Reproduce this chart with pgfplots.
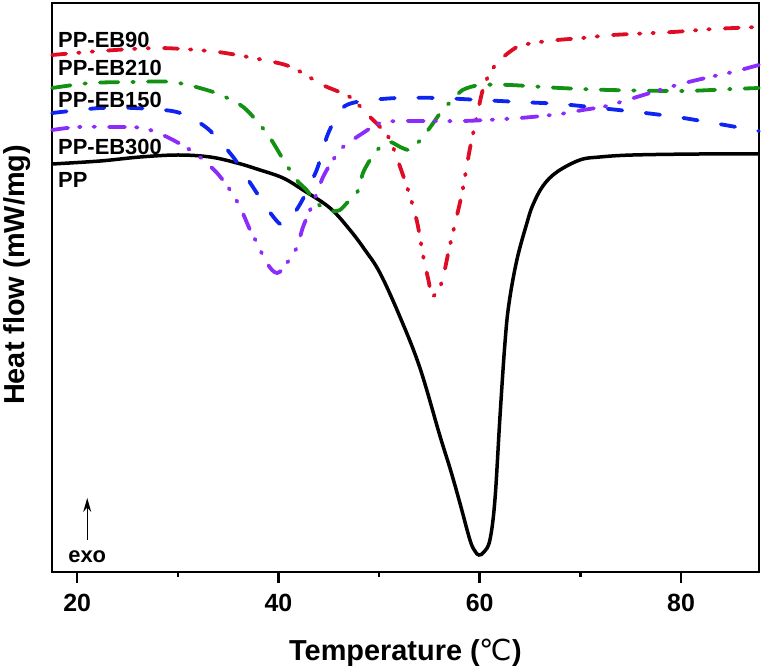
\documentclass[border=0pt]{standalone}
\usepackage{pgfplots}
\pgfplotsset{compat=1.18}
\usepackage{fontspec}
\setmainfont{Liberation Sans}
\newfontfamily\djv{DejaVu Sans}
\usetikzlibrary{arrows.meta}
\definecolor{cred}{RGB}{222,12,36}
\definecolor{cgreen}{RGB}{18,145,18}
\definecolor{cblue}{RGB}{14,36,240}
\definecolor{cpurple}{RGB}{140,44,250}
\newcommand\lblfont{\bfseries\fontsize{22}{26}\selectfont}
\begin{document}
\begin{tikzpicture}
\begin{axis}[
  scale only axis, width=707bp, height=569bp,
  xmin=17.5, xmax=87.75, ymin=0, ymax=569,
  axis line style={line width=2.5bp},
  xtick={20,40,60,80}, minor xtick={30,50,70},
  ytick=\empty, xtick pos=left, tick align=outside,
  major tick length=11bp, minor tick length=5bp,
  every tick/.style={black, line width=2.5bp},
  tick label style={font=\bfseries\fontsize{25}{30}\selectfont},
  xticklabel style={yshift=-8bp},
  /pgf/number format/assume math mode=true,
  xlabel={Temperature ({\djv\mdseries ℃})},
  ylabel={Heat flow (mW/mg)},
  xlabel style={font=\bfseries\fontsize{29}{34}\selectfont, at={(axis description cs:0.5,-0.1547)}, anchor=base},
  ylabel style={font=\bfseries\fontsize{29}{34}\selectfont, at={(axis description cs:-0.0382,0.522)}, anchor=base},
  clip=false,
]
% PP (black)
\addplot[black, line width=3.5bp, smooth, tension=0.6] coordinates {
(17.52,408) (22.28,411) (26.26,415) (30.03,417) (33.21,415) (35.89,409) (38.17,402)
(40.46,394) (42.44,382) (45.12,364) (47.11,342) (48.6,322) (50.09,299) (52.08,255) (54.06,204)
(56.05,136) (57.1,102) (58.03,69) (59.03,32) (59.52,21) (59.92,17) (60.42,20) (61.01,32)
(61.51,72) (62.01,155) (62.50,228) (62.90,268) (63.69,312) (64.69,349) (65.28,367)
(66.28,386) (67.67,400) (69.95,412) (71.94,415) (75.21,417) (81.87,418) (87.73,418)};
% PP-EB90 (red)
\addplot[cred, line width=3.8bp, line cap=round, smooth, tension=0.45,
  dash pattern=on 14bp off 12bp on 1.5bp off 12bp on 1.5bp off 15bp] coordinates {
(17.52,517) (22.3,521) (28.2,524) (34.0,520) (39.5,510) (41.5,504) (44.4,487) (47.1,475)
(49.1,455) (50.1,445) (51.1,432) (52.3,399) (53.1,375) (53.8,349) (54.4,315) (54.9,292)
(55.25,276) (55.75,280) (56.3,292) (57.0,325) (57.8,359) (58.3,382) (59.0,422) (59.7,455)
(60.3,482) (61.0,499) (62.0,512) (63.7,525) (65.3,529) (67.7,532) (70.2,534) (73.2,537)
(79.2,540) (83.2,543) (87.73,545)};
% PP-EB210 (green)
\addplot[cgreen, line width=3.8bp, line cap=round, smooth, tension=0.45,
  dash pattern=on 18.5bp off 14bp on 1.5bp off 14bp] coordinates {
(17.52,484) (21.3,489) (25.6,490) (29.5,490) (33.5,480) (36.5,465) (38.9,438) (40.5,412)
(41.8,392) (42.8,382) (43.8,369) (45.1,361) (46.1,362) (46.8,369) (47.8,379) (48.4,399)
(49.1,412) (50.1,425) (51.1,430) (52.1,425) (53.1,422) (54.1,432) (55.1,445) (56.3,462)
(57.3,472) (58.3,482) (60.0,487) (63.0,487) (68.0,484) (72.9,482) (80.2,481) (85.1,483)
(87.73,484)};
% PP-EB150 (blue)
\addplot[cblue, line width=3.8bp, line cap=round, smooth, tension=0.45,
  dash pattern=on 14.5bp off 23.5bp] coordinates {
(17.52,459) (19.3,461) (22.3,464) (25.6,464) (29.9,460) (32.9,444) (35.5,415) (37.2,389)
(39.2,359) (40.5,347) (42.1,367) (43.8,402) (44.8,435) (45.6,452) (46.6,466) (48.3,471)
(51.8,474) (56.0,474) (60.0,472) (64.0,470) (68.0,468) (71.9,464) (75.6,460) (79.6,455)
(83.2,449) (87.73,441)};
% PP-EB300 (purple)
\addplot[cpurple, line width=3.8bp, line cap=round, smooth, tension=0.45,
  dash pattern=on 16bp off 11bp on 1.5bp off 13bp on 1.5bp off 14bp] coordinates {
(17.52,442) (20.0,445) (23.28,445) (26.55,444) (28.94,435) (30.92,424) (32.21,415)
(33.90,399) (35.19,382) (36.19,365) (37.18,342) (37.87,329) (38.67,312) (39.36,302)
(39.86,299) (40.36,302) (40.85,309) (41.85,325) (42.44,345) (43.44,369) (44.43,395)
(45.42,412) (46.42,425) (48.40,439) (50.09,449) (52.08,451) (58.33,451) (63.99,454)
(67.96,458) (70.25,462) (72.63,466) (75.61,475) (79.58,487) (82.86,495) (85.14,500)
(87.73,507)};
\node[anchor=west, inner sep=0pt, font=\lblfont] at (axis cs:18.1,532) {PP-EB90};
\node[anchor=west, inner sep=0pt, font=\lblfont] at (axis cs:18.1,504) {PP-EB210};
\node[anchor=west, inner sep=0pt, font=\lblfont] at (axis cs:18.1,472) {PP-EB150};
\node[anchor=west, inner sep=0pt, font=\lblfont] at (axis cs:18.1,425) {PP-EB300};
\node[anchor=west, inner sep=0pt, font=\lblfont] at (axis cs:18.1,392) {PP};
\node[inner sep=0pt, font=\lblfont] at (axis cs:21.0,15) {exo};
\draw[-{Stealth[length=14bp,width=8bp]}, line width=1.2bp] (axis cs:21.0,32) -- (axis cs:21.0,74);
\end{axis}
\pgfresetboundingbox
\path ([xshift=-52bp,yshift=-98bp]current axis.south west) rectangle ([xshift=7bp,yshift=3bp]current axis.north east);
\end{tikzpicture}
\end{document}
